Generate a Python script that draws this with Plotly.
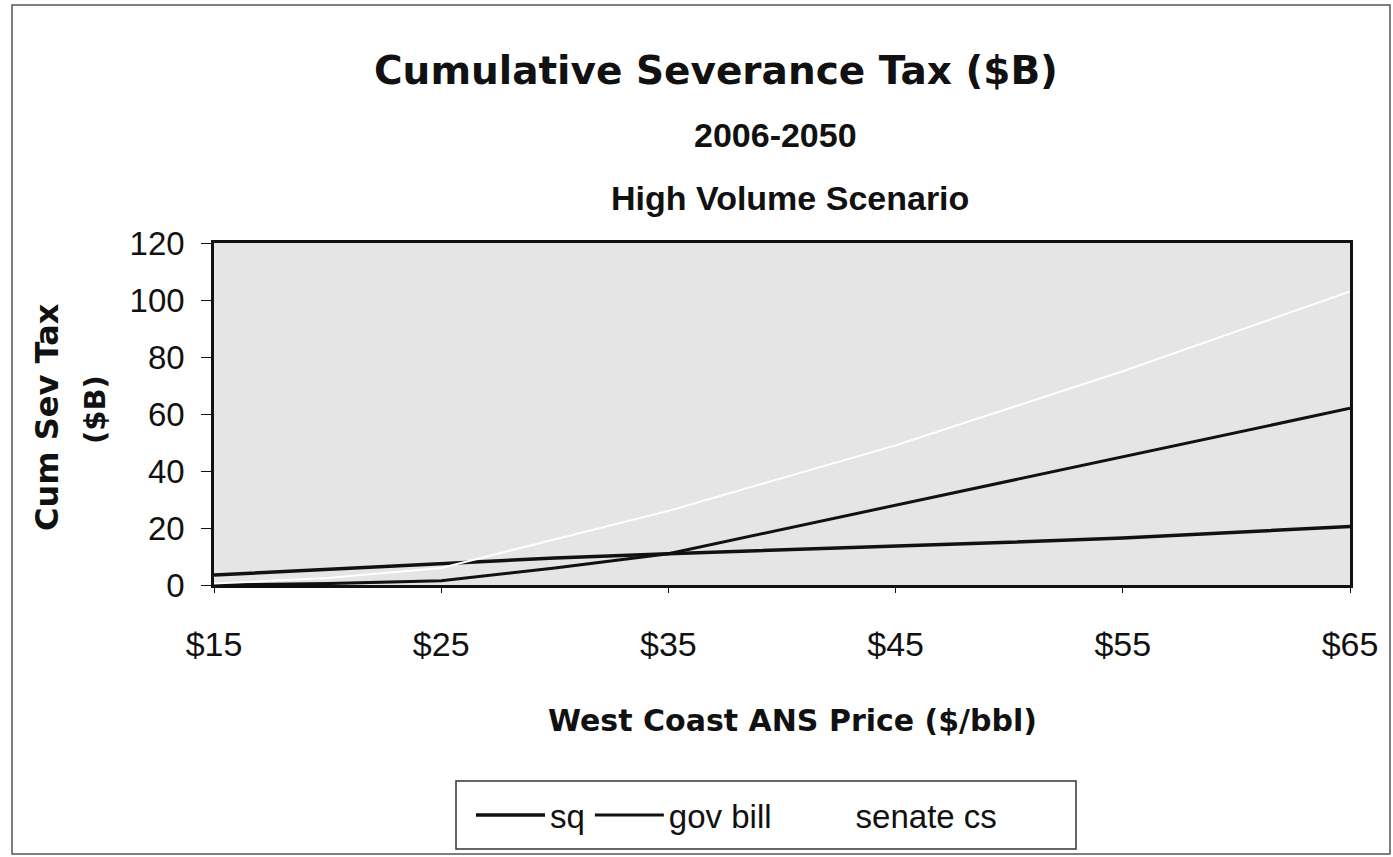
import plotly.graph_objects as go

price = [15, 20, 25, 30, 35, 40, 45, 50, 55, 60, 65]
sq = [3.5, 5.5, 7.5, 9.5, 11, 12.3, 13.5, 15, 16.5, 18.5, 20.5]
gov_bill = [0, 0.5, 1.5, 6, 11, 19.5, 28, 36.5, 45, 53.5, 62]
senate_cs = [0.5, 2.5, 6, 16, 26, 37.5, 49, 62, 75, 89, 103]
xticks = [15, 25, 35, 45, 55, 65]
xticklabels = ["$15", "$25", "$35", "$45", "$55", "$65"]
yticks = [0, 20, 40, 60, 80, 100, 120]

FONT = "Liberation Sans, Arial, sans-serif"
WIDE = "DejaVu Sans, Liberation Sans, sans-serif"

W, H = 1393, 857
L, R, T, B = 214, 43, 243, 272
PW, PH = W - L - R, H - T - B


def px(x):
    return (x - L) / PW


def py(y):
    return 1 - (y - T) / PH


fig = go.Figure()
fig.add_trace(go.Scatter(x=price, y=sq, mode="lines", name="sq",
                         line=dict(color="#111111", width=3.5)))
fig.add_trace(go.Scatter(x=price, y=gov_bill, mode="lines", name="gov bill",
                         line=dict(color="#111111", width=3)))
fig.add_trace(go.Scatter(x=price, y=senate_cs, mode="lines", name="senate cs",
                         line=dict(color="#ffffff", width=2)))

fig.update_layout(
    width=W, height=H,
    margin=dict(l=L, r=R, t=T, b=B),
    paper_bgcolor="white",
    plot_bgcolor="#e5e5e5",
    font=dict(family=FONT, color="#111111"),
    showlegend=True,
    legend=dict(orientation="h", x=px(471), y=py(815), xanchor="left", yanchor="middle",
                borderwidth=0, bgcolor="rgba(0,0,0,0)",
                font=dict(size=33, family=FONT), itemwidth=69, tracegroupgap=0),
    xaxis=dict(range=[15, 65], tickvals=xticks, ticktext=xticklabels,
               showgrid=False, zeroline=False, showline=True, linecolor="#111111",
               linewidth=2.5, mirror=True, ticks="outside", ticklen=5, tickcolor="#111111",
               tickfont=dict(size=34, family=FONT), ticklabelstandoff=22),
    yaxis=dict(range=[0, 120], tickvals=yticks, showgrid=False, zeroline=False,
               showline=True, linecolor="#111111", linewidth=2.5, mirror=True,
               ticks="outside", ticklen=10, tickcolor="#111111",
               tickfont=dict(size=33, family=FONT), ticklabelstandoff=10),
)

# chart title, three lines
fig.add_annotation(text="<b>Cumulative Severance Tax ($B)</b>", x=px(716), y=py(71),
                   xref="paper", yref="paper", xanchor="center", yanchor="middle",
                   showarrow=False, font=dict(size=39, family=WIDE, color="#111111"))
fig.add_annotation(text="<b>2006-2050</b>", x=px(775), y=py(135),
                   xref="paper", yref="paper", xanchor="center", yanchor="middle",
                   showarrow=False, font=dict(size=34, family=FONT, color="#111111"))
fig.add_annotation(text="<b>High Volume Scenario</b>", x=px(790), y=py(198),
                   xref="paper", yref="paper", xanchor="center", yanchor="middle",
                   showarrow=False, font=dict(size=34, family=FONT, color="#111111"))

# axis titles
fig.add_annotation(text="<b>West Coast ANS Price ($/bbl)</b>", x=px(792), y=py(720),
                   xref="paper", yref="paper", xanchor="center", yanchor="middle",
                   showarrow=False, font=dict(size=30, family=WIDE, color="#111111"))
fig.add_annotation(text="<b>Cum Sev Tax</b>", x=px(47), y=py(417), textangle=-90,
                   xref="paper", yref="paper", xanchor="center", yanchor="middle",
                   showarrow=False, font=dict(size=32, family=WIDE, color="#111111"))
fig.add_annotation(text="<b>($B)</b>", x=px(95), y=py(410), textangle=-90,
                   xref="paper", yref="paper", xanchor="center", yanchor="middle",
                   showarrow=False, font=dict(size=29, family=WIDE, color="#111111"))

# legend box
fig.add_shape(type="rect", xref="paper", yref="paper",
              x0=px(456), x1=px(1076), y0=py(849), y1=py(781),
              line=dict(color="#333333", width=1.5), fillcolor="white", layer="below")

# outer frame of the chart
fig.add_shape(type="rect", xref="paper", yref="paper",
              x0=px(12), x1=px(1390), y0=py(854), y1=py(5),
              line=dict(color="#555555", width=1.5), layer="below")

fig.write_html("out.html")
